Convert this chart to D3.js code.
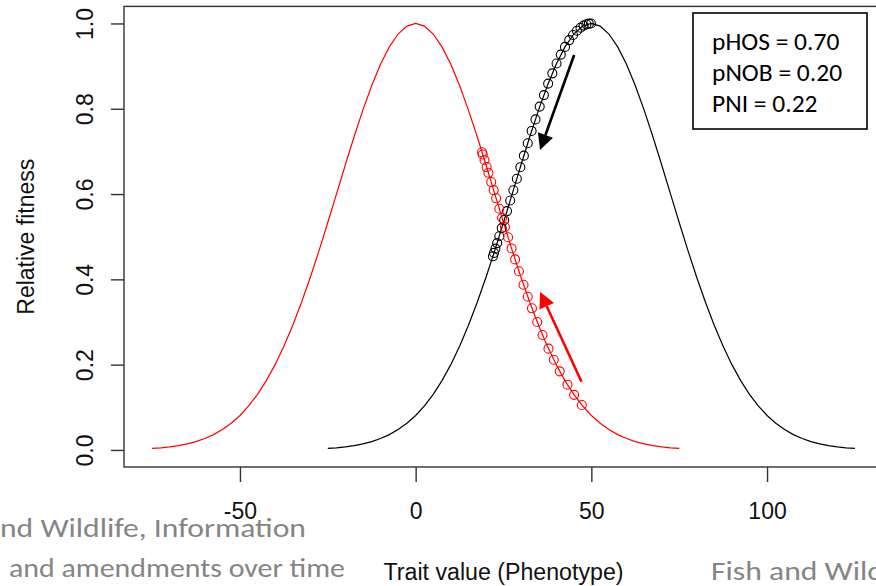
<!DOCTYPE html>
<html>
<head>
<meta charset="utf-8">
<script src="https://cdn.jsdelivr.net/npm/d3@7"></script>
<style>
  html, body { margin: 0; padding: 0; background: #fff; }
  svg { display: block; }
</style>
</head>
<body>
<svg id="chart" width="876" height="586"></svg>
<script>
// Fitness curve in the hatchery environment (optimum at 0)
const hatcheryTrait = [-75,-72.5,-70,-67.5,-65,-62.5,-60,-57.5,-55,-52.5,-50,-47.5,-45,-42.5,-40,-37.5,-35,-32.5,-30,-27.5,-25,-22.5,-20,-17.5,-15,-12.5,-10,-7.5,-5,-2.5,0,2.5,5,7.5,10,12.5,15,17.5,20,22.5,25,27.5,30,32.5,35,37.5,40,42.5,45,47.5,50,52.5,55,57.5,60,62.5,65,67.5,70,72.5,75];
const hatcheryFitness = [0.0035,0.0050,0.0072,0.0102,0.0143,0.0196,0.0267,0.0359,0.0477,0.0625,0.0808,0.1033,0.1304,0.1625,0.2000,0.2430,0.2916,0.3456,0.4044,0.4673,0.5333,0.6009,0.6687,0.7349,0.7974,0.8545,0.9043,0.9450,0.9752,0.9937,1.0000,0.9937,0.9752,0.9450,0.9043,0.8545,0.7974,0.7349,0.6687,0.6009,0.5333,0.4673,0.4044,0.3456,0.2916,0.2430,0.2000,0.1625,0.1304,0.1033,0.0808,0.0625,0.0477,0.0359,0.0267,0.0196,0.0143,0.0102,0.0072,0.0050,0.0035];

// Fitness curve in the natural environment (optimum at 50)
const naturalTrait = [-25,-22.5,-20,-17.5,-15,-12.5,-10,-7.5,-5,-2.5,0,2.5,5,7.5,10,12.5,15,17.5,20,22.5,25,27.5,30,32.5,35,37.5,40,42.5,45,47.5,50,52.5,55,57.5,60,62.5,65,67.5,70,72.5,75,77.5,80,82.5,85,87.5,90,92.5,95,97.5,100,102.5,105,107.5,110,112.5,115,117.5,120,122.5,125];
const naturalFitness = [0.0035,0.0050,0.0072,0.0102,0.0143,0.0196,0.0267,0.0359,0.0477,0.0625,0.0808,0.1033,0.1304,0.1625,0.2000,0.2430,0.2916,0.3456,0.4044,0.4673,0.5333,0.6009,0.6687,0.7349,0.7974,0.8545,0.9043,0.9450,0.9752,0.9937,1.0000,0.9937,0.9752,0.9450,0.9043,0.8545,0.7974,0.7349,0.6687,0.6009,0.5333,0.4673,0.4044,0.3456,0.2916,0.2430,0.2000,0.1625,0.1304,0.1033,0.0808,0.0625,0.0477,0.0359,0.0267,0.0196,0.0143,0.0102,0.0072,0.0050,0.0035];

// Mean trait of the natural component by generation, and its natural fitness
const naturalMeanTrait = [49.9,49.3,48.6,47.8,46.9,45.9,44.8,43.7,42.5,41.3,40.1,38.9,37.7,36.5,35.3,34.1,33.0,31.9,30.8,29.8,28.8,27.8,26.9,26.0,25.2,24.5,23.8,23.2,22.7,22.3,22.0];
const naturalMeanFitness = [1.000,0.9995,0.998,0.995,0.990,0.983,0.973,0.961,0.945,0.927,0.906,0.883,0.859,0.832,0.805,0.775,0.748,0.719,0.690,0.663,0.636,0.609,0.585,0.560,0.539,0.520,0.501,0.485,0.472,0.462,0.454];

// Mean trait of the hatchery component by generation, and its hatchery fitness
const hatcheryMeanTrait = [47.3,45.1,43.2,41.0,39.3,37.8,36.1,34.6,33.1,31.9,30.7,29.4,28.3,27.3,26.3,25.4,24.6,23.8,22.9,22.2,21.5,20.7,20.2,19.6,19.1,18.9];
const hatcheryMeanFitness = [0.1053,0.1292,0.1530,0.1843,0.2114,0.2375,0.2695,0.2999,0.3321,0.3592,0.3874,0.4191,0.4468,0.4725,0.4986,0.5225,0.5440,0.5656,0.5900,0.6091,0.6281,0.6498,0.6633,0.6794,0.6928,0.6981];

// Direction arrows: [fromTrait, fromFitness, toTrait, toFitness]
const naturalArrow = [45.1, 0.926, 35.4, 0.703];
const hatcheryArrow = [47.2, 0.160, 35.4, 0.371];

const xTicks = [-50, 0, 50, 100];
const yTicks = [0, 0.2, 0.4, 0.6, 0.8, 1.0];
const xLabel = "Trait value (Phenotype)";
const yLabel = "Relative fitness";
const statLines = ["pHOS = 0.70", "pNOB = 0.20", "PNI = 0.22"];
const slideLines = [
  { text: "nd Wildlife, Information", x: 0, y: 537, len: 306 },
  { text: "and amendments over time", x: 9, y: 577, len: 336 },
  { text: "Fish and Wildlife", x: 711, y: 580, len: 212 }
];

const svg = d3.select("#chart");

// Axis ranges padded by 4% on each side
const xData = [-75, 125], yData = [0, 1];
const xPad = (xData[1] - xData[0]) * 0.04, yPad = (yData[1] - yData[0]) * 0.04;
const x = d3.scaleLinear().domain([xData[0] - xPad, xData[1] + xPad]).range([124, 883]);
const y = d3.scaleLinear().domain([yData[0] - yPad, yData[1] + yPad]).range([467, 6.4]);

const rFont = "'Liberation Sans', Arial, Helvetica, sans-serif";
const sFont = "Carlito, Calibri, Lato, sans-serif";

// Background slide text
svg.append("g").selectAll("text").data(slideLines).join("text")
  .attr("x", d => d.x).attr("y", d => d.y)
  .attr("textLength", d => d.len).attr("lengthAdjust", "spacingAndGlyphs")
  .attr("font-family", sFont).attr("font-size", 27).attr("fill", "#858585")
  .text(d => d.text);

// Curves
const line = d3.line().x(d => x(d[0])).y(d => y(d[1]));
svg.append("path")
  .attr("d", line(d3.zip(hatcheryTrait, hatcheryFitness)))
  .attr("fill", "none").attr("stroke", "#ff0000").attr("stroke-width", 1.2);
svg.append("path")
  .attr("d", line(d3.zip(naturalTrait, naturalFitness)))
  .attr("fill", "none").attr("stroke", "#000").attr("stroke-width", 1.2);

// Generation points
svg.append("g").selectAll("circle").data(d3.zip(naturalMeanTrait, naturalMeanFitness)).join("circle")
  .attr("cx", d => x(d[0])).attr("cy", d => y(d[1])).attr("r", 4.5)
  .attr("fill", "none").attr("stroke", "#000").attr("stroke-width", 1.1);
svg.append("g").selectAll("circle").data(d3.zip(hatcheryMeanTrait, hatcheryMeanFitness)).join("circle")
  .attr("cx", d => x(d[0])).attr("cy", d => y(d[1])).attr("r", 4.5)
  .attr("fill", "none").attr("stroke", "#ff0000").attr("stroke-width", 1.1);

// Arrows with filled heads
function arrow(a, color) {
  const x0 = x(a[0]), y0 = y(a[1]), x1 = x(a[2]), y1 = y(a[3]);
  const ang = Math.atan2(y1 - y0, x1 - x0);
  const headLen = 16, headHalf = 8;
  const bx = x1 - headLen * Math.cos(ang), by = y1 - headLen * Math.sin(ang);
  svg.append("line")
    .attr("x1", x0).attr("y1", y0).attr("x2", bx).attr("y2", by)
    .attr("stroke", color).attr("stroke-width", 2.6);
  const px = -Math.sin(ang) * headHalf, py = Math.cos(ang) * headHalf;
  svg.append("polygon")
    .attr("points", [[x1, y1], [bx + px, by + py], [bx - px, by - py]].map(p => p.join(",")).join(" "))
    .attr("fill", color);
}
arrow(naturalArrow, "#000");
arrow(hatcheryArrow, "#ff0000");

// Plot frame
svg.append("rect")
  .attr("x", x.range()[0]).attr("y", y.range()[1])
  .attr("width", x.range()[1] - x.range()[0]).attr("height", y.range()[0] - y.range()[1])
  .attr("fill", "none").attr("stroke", "#333").attr("stroke-width", 1.4);

// Bottom axis (plain hyphen for negatives)
const gx = svg.append("g").attr("transform", `translate(0,${y.range()[0]})`)
  .call(d3.axisBottom(x).tickValues(xTicks).tickFormat(d => String(d)).tickSize(15).tickSizeOuter(0));
gx.select(".domain").remove();
gx.selectAll(".tick line").attr("stroke", "#333").attr("stroke-width", 1.4);
gx.selectAll(".tick text").attr("font-family", rFont).attr("font-size", 23).attr("fill", "#111")
  .attr("dy", 0).attr("y", 52);

// Left axis with rotated labels
const gy = svg.append("g").attr("transform", `translate(${x.range()[0]},0)`)
  .call(d3.axisLeft(y).tickValues(yTicks).tickFormat(d3.format(".1f")).tickSize(13).tickSizeOuter(0));
gy.select(".domain").remove();
gy.selectAll(".tick line").attr("stroke", "#333").attr("stroke-width", 1.4);
gy.selectAll(".tick text")
  .attr("font-family", rFont).attr("font-size", 23).attr("fill", "#111")
  .attr("text-anchor", "middle").attr("dy", 0).attr("x", -31).attr("y", 0)
  .attr("transform", "rotate(-90,-31,0)");

// Axis titles
svg.append("text")
  .attr("x", (x.range()[0] + x.range()[1]) / 2).attr("y", 580)
  .attr("text-anchor", "middle").attr("font-family", rFont).attr("font-size", 23)
  .attr("textLength", 240).attr("lengthAdjust", "spacingAndGlyphs").attr("fill", "#111")
  .text(xLabel);
const yMid = (y.range()[0] + y.range()[1]) / 2;
svg.append("text")
  .attr("x", 34).attr("y", yMid).attr("transform", `rotate(-90,34,${yMid})`)
  .attr("text-anchor", "middle").attr("font-family", rFont).attr("font-size", 23).attr("fill", "#111")
  .text(yLabel);

// Statistics box
svg.append("rect").attr("x", 693).attr("y", 13).attr("width", 174).attr("height", 116)
  .attr("fill", "#fff").attr("stroke", "#000").attr("stroke-width", 1.6);
svg.append("g").selectAll("text").data(statLines).join("text")
  .attr("x", 712).attr("y", (d, i) => 50 + i * 31)
  .attr("font-family", sFont).attr("font-size", 25.5).attr("fill", "#000")
  .text(d => d);
</script>
</body>
</html>
